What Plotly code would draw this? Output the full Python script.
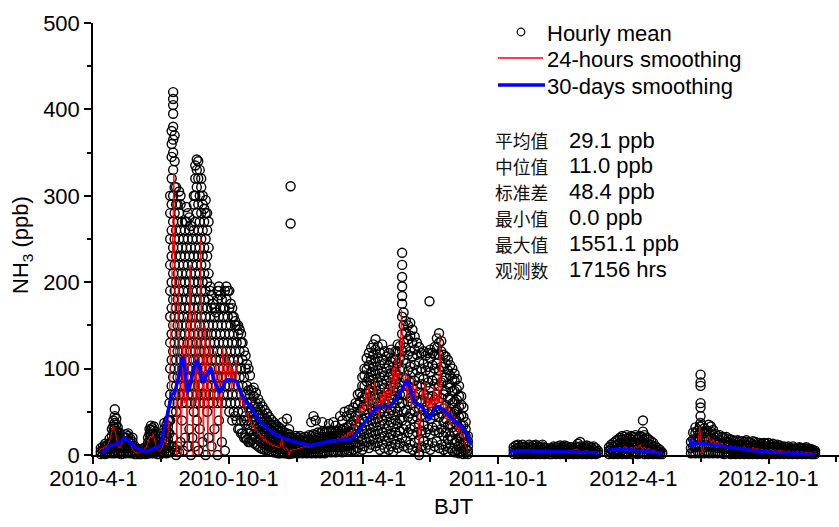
import plotly.graph_objects as go
import pandas as pd

# ---------------- data ----------------
# Hourly mean points: (date, values at that date in ppb)
hourly_2010_spring = [
    ("2010-04-11", [1, 4, 8]), ("2010-04-14", [2, 6, 10]), ("2010-04-17", [1, 5, 9, 13]),
    ("2010-04-20", [2, 7, 12]), ("2010-04-23", [3, 8, 14, 19]), ("2010-04-26", [2, 8, 15, 22, 30]),
    ("2010-04-28", [4, 11, 18, 26, 33, 40]), ("2010-04-30", [2, 9, 16, 24, 31, 37, 45, 53]),
    ("2010-05-02", [5, 12, 20, 28, 35, 42]), ("2010-05-04", [3, 10, 17, 25, 32]),
    ("2010-05-06", [2, 8, 14, 20, 26]), ("2010-05-09", [1, 5, 10, 15]), ("2010-05-12", [3, 9, 15, 20]),
    ("2010-05-15", [2, 8, 14, 20, 24]), ("2010-05-18", [4, 10, 16, 22, 25]), ("2010-05-21", [2, 8, 14, 19]),
    ("2010-05-24", [3, 9, 15, 20]), ("2010-05-27", [1, 5, 10]), ("2010-05-30", [1, 4, 7]),
    ("2010-06-02", [1, 3, 6]), ("2010-06-05", [1, 4, 7]), ("2010-06-08", [2, 5, 8]), ("2010-06-11", [1, 5, 9]),
    ("2010-06-14", [2, 8, 14, 20]), ("2010-06-16", [3, 10, 17, 24, 30]), ("2010-06-18", [2, 9, 16, 23, 29, 34]),
    ("2010-06-20", [4, 11, 18, 25, 31]), ("2010-06-22", [2, 8, 15, 22, 28, 33]), ("2010-06-24", [3, 10, 17, 24]),
    ("2010-06-27", [1, 6, 11, 16]), ("2010-06-30", [1, 4, 8, 12]), ("2010-07-03", [2, 7, 13, 19, 25]),
    ("2010-07-06", [3, 9, 16, 23, 30, 37]), ("2010-07-09", [2, 8, 15, 22, 29, 35]),
    ("2010-07-11", [4, 11, 18, 26, 33, 40]), ("2010-07-13", [3, 12, 25, 40, 60]),
]
hourly_2010_summer = [
    ("2010-07-14", [5, 40, 70, 100, 130, 160, 190, 220, 250, 280, 300]),
    ("2010-07-16", [10, 50, 80, 110, 140, 170, 200, 230, 260, 290, 320, 345, 360, 375]),
    ("2010-07-18", [20, 60, 90, 120, 150, 180, 210, 240, 270, 300, 330, 350, 365, 380, 395, 405, 412, 420]),
    ("2010-07-20", [5, 70, 100, 130, 160, 190, 220, 250, 280, 310, 340, 370]),
    ("2010-07-22", [0, 50, 80, 110, 140, 170, 200, 230, 260, 290, 310]),
    ("2010-07-24", [10, 60, 90, 120, 150, 180, 210, 240, 270, 290]),
    ("2010-07-26", [3, 70, 100, 130, 160, 190, 220, 250, 280, 305]),
    ("2010-07-28", [15, 80, 110, 140, 170, 200, 230, 260, 290, 300]),
    ("2010-07-30", [40, 60, 90, 120, 150, 180, 210, 240, 270]),
    ("2010-08-01", [5, 70, 100, 130, 160, 190, 220, 250]),
    ("2010-08-03", [20, 80, 110, 140, 170, 200, 230, 260, 270]),
    ("2010-08-05", [60, 90, 120, 150, 180, 210, 240, 270, 287]),
    ("2010-08-07", [10, 70, 100, 130, 160, 190, 220, 250, 280]),
    ("2010-08-09", [30, 80, 110, 140, 170, 200, 230, 260, 275]),
    ("2010-08-11", [0, 60, 90, 120, 150, 180, 210, 240, 265]),
    ("2010-08-13", [20, 70, 100, 130, 160, 190, 220, 250]),
    ("2010-08-15", [50, 80, 110, 140, 170, 200, 230, 260, 290, 300]),
    ("2010-08-17", [10, 60, 90, 120, 150, 180, 210, 240, 270, 300, 320, 335]),
    ("2010-08-19", [40, 70, 100, 130, 160, 190, 220, 250, 280, 310, 330, 342]),
    ("2010-08-21", [5, 80, 110, 140, 170, 200, 230, 260, 290, 320, 340]),
    ("2010-08-23", [30, 60, 90, 120, 150, 180, 210, 240, 270, 300, 330]),
    ("2010-08-25", [70, 100, 130, 160, 190, 220, 250, 280, 310, 320]),
    ("2010-08-27", [15, 80, 110, 140, 170, 200, 230, 260, 290, 300]),
    ("2010-08-29", [60, 90, 120, 150, 180, 210, 240, 270, 285]),
    ("2010-08-31", [0, 70, 100, 130, 160, 190, 220, 250, 280, 295]),
    ("2010-09-02", [50, 80, 110, 140, 170, 200, 230, 260, 280]),
    ("2010-09-04", [20, 60, 90, 120, 150, 180, 210, 240, 270]),
    ("2010-09-06", [70, 100, 130, 160, 190, 195]),
    ("2010-09-08", [10, 80, 110, 140, 170, 185]),
    ("2010-09-10", [60, 90, 120, 150, 175]),
    ("2010-09-12", [30, 70, 100, 130, 160, 170]),
    ("2010-09-14", [80, 110, 140, 165]),
    ("2010-09-16", [0, 60, 90, 120, 150, 180, 190]),
    ("2010-09-18", [40, 70, 100, 130, 160, 190, 195]),
    ("2010-09-20", [80, 110, 140, 170, 185]),
    ("2010-09-22", [15, 60, 90, 120, 150, 180]),
    ("2010-09-24", [70, 100, 130, 160, 170]),
    ("2010-09-26", [5, 80, 110, 140, 170, 190]),
    ("2010-09-28", [60, 90, 120, 150, 180, 195]),
    ("2010-09-30", [70, 100, 130, 160, 190]),
    ("2010-10-02", [50, 80, 110, 140, 170, 190]),
    ("2010-10-04", [60, 90, 120, 150, 175]),
    ("2010-10-06", [40, 70, 100, 130, 160, 170]),
    ("2010-10-08", [50, 80, 110, 140, 160]),
    ("2010-10-10", [45, 60, 90, 120, 150, 155]),
    ("2010-10-12", [40, 70, 100, 130, 150]),
    ("2010-10-14", [30, 50, 80, 110, 140, 150]),
    ("2010-10-16", [30, 60, 90, 120, 145]),
    ("2010-10-18", [25, 40, 70, 100, 130, 140]),
    ("2010-10-20", [25, 50, 80, 110, 130]),
    ("2010-10-22", [20, 40, 60, 90, 120]),
    ("2010-10-24", [20, 45, 70, 100, 115]),
    ("2010-10-26", [18, 40, 60, 80, 105]),
    ("2010-10-28", [15, 35, 55, 75, 100]),
    ("2010-10-30", [15, 30, 50, 70, 92]),
]
hourly_2010_winter = [
    ("2010-11-01", [18, 28, 38, 50, 62, 75]), ("2010-11-04", [14, 24, 34, 45, 56, 68, 78]),
    ("2010-11-07", [12, 21, 30, 40, 50, 60, 72]), ("2010-11-10", [10, 18, 27, 36, 46, 56, 65]),
    ("2010-11-13", [8, 16, 24, 33, 42, 52, 60]), ("2010-11-16", [7, 14, 22, 30, 38, 47, 56]),
    ("2010-11-19", [6, 13, 20, 27, 35, 43, 52]), ("2010-11-22", [5, 11, 18, 25, 32, 40, 48]),
    ("2010-11-25", [4, 10, 16, 23, 30, 37, 44]), ("2010-11-28", [4, 9, 15, 21, 28, 35, 41]),
    ("2010-12-01", [3, 8, 14, 20, 26, 32, 38]), ("2010-12-04", [3, 8, 13, 18, 24, 30, 35]),
    ("2010-12-07", [2, 7, 12, 17, 22, 28, 33]), ("2010-12-10", [2, 7, 12, 17, 22, 27, 31]),
    ("2010-12-13", [3, 8, 13, 18, 23, 28, 38]), ("2010-12-16", [2, 6, 11, 16, 21, 26]),
    ("2010-12-19", [2, 6, 11, 16, 21, 25, 42]), ("2010-12-22", [1, 5, 10, 15, 20, 24, 30]),
    ("2010-12-24", [268, 311]), ("2010-12-25", [2, 6, 11, 16, 21]), ("2010-12-28", [2, 6, 10, 15, 20]),
    ("2010-12-31", [3, 7, 12, 17, 22]), ("2011-01-03", [2, 6, 11, 16, 20]), ("2011-01-06", [3, 7, 12, 17, 22]),
    ("2011-01-09", [2, 6, 11, 16, 20]), ("2011-01-12", [3, 7, 12, 17, 21]), ("2011-01-15", [2, 6, 11, 16, 21]),
    ("2011-01-18", [3, 8, 13, 18, 23]), ("2011-01-21", [2, 7, 12, 17, 22, 38]),
    ("2011-01-24", [3, 8, 13, 18, 24, 45]), ("2011-01-27", [2, 7, 12, 17, 23, 40]),
    ("2011-01-30", [3, 8, 14, 20, 26]), ("2011-02-02", [2, 7, 13, 19, 25]),
    ("2011-02-05", [3, 9, 15, 21, 27, 38]), ("2011-02-08", [2, 8, 14, 20, 26]),
    ("2011-02-11", [3, 9, 15, 21, 27]), ("2011-02-14", [4, 10, 16, 22, 28, 36]),
    ("2011-02-17", [3, 9, 15, 21, 27]), ("2011-02-20", [4, 10, 16, 22, 28, 38]),
    ("2011-02-23", [3, 9, 15, 21, 27, 34]), ("2011-02-26", [4, 10, 16, 22, 28]),
    ("2011-03-01", [4, 10, 17, 24, 30, 45]), ("2011-03-04", [3, 9, 16, 23, 29, 40]),
    ("2011-03-07", [5, 11, 18, 25, 31, 50]), ("2011-03-10", [4, 10, 17, 24, 32, 45]),
    ("2011-03-13", [5, 12, 19, 26, 34, 52]), ("2011-03-16", [4, 11, 18, 26, 35, 48]),
    ("2011-03-19", [6, 13, 21, 30, 40, 55]), ("2011-03-22", [5, 14, 24, 34, 45, 60]),
]
hourly_2011_spring = [
    ("2011-03-25", [8, 20, 32, 45, 58, 70]), ("2011-03-28", [12, 25, 38, 50, 62, 72]),
    ("2011-03-31", [6, 18, 30, 42, 55, 68, 80, 90]), ("2011-04-03", [10, 24, 38, 52, 66, 80, 92, 100]),
    ("2011-04-06", [15, 29, 43, 57, 71, 85, 99, 112]), ("2011-04-09", [8, 20, 34, 48, 62, 76, 90, 104, 118]),
    ("2011-04-12", [12, 26, 40, 54, 68, 82, 96, 110, 124]), ("2011-04-15", [18, 32, 46, 60, 74, 88, 102, 116, 128]),
    ("2011-04-18", [10, 24, 38, 52, 66, 80, 94, 108, 122, 134]), ("2011-04-21", [14, 28, 42, 56, 70, 84, 98, 112, 126]),
    ("2011-04-24", [6, 20, 34, 48, 62, 76, 90, 104, 118]), ("2011-04-27", [12, 26, 40, 54, 68, 82, 96, 110, 128]),
    ("2011-04-30", [8, 22, 36, 50, 64, 78, 92, 106, 120]), ("2011-05-03", [16, 30, 44, 58, 72, 86, 100, 114]),
    ("2011-05-06", [6, 20, 34, 48, 62, 76, 90, 104, 118]), ("2011-05-09", [10, 24, 38, 52, 66, 80, 94, 108, 122]),
    ("2011-05-12", [4, 18, 32, 46, 60, 74, 88, 102, 112]), ("2011-05-15", [12, 26, 40, 54, 68, 82, 96, 110, 120]),
    ("2011-05-18", [8, 22, 36, 50, 64, 78, 92, 106, 120, 128]), ("2011-05-21", [14, 28, 42, 56, 70, 84, 98, 112, 126]),
    ("2011-05-24", [20, 40, 60, 80, 100, 120, 140, 160, 175, 184, 195, 206, 220, 234]),
    ("2011-05-26", [10, 30, 50, 70, 90, 110, 130, 150, 165]), ("2011-05-29", [16, 34, 52, 70, 88, 106, 124, 142, 155]),
    ("2011-06-01", [8, 26, 44, 62, 80, 98, 116, 134, 150]), ("2011-06-04", [12, 30, 48, 66, 84, 102, 120, 138, 153]),
    ("2011-06-07", [6, 24, 42, 60, 78, 96, 114, 130, 145]), ("2011-06-10", [14, 32, 50, 68, 86, 104, 122, 137]),
    ("2011-06-13", [8, 26, 44, 62, 80, 98, 116, 130]), ("2011-06-16", [0, 3, 18, 36, 54, 72, 90, 108, 125]),
    ("2011-06-19", [10, 28, 46, 64, 82, 100, 118]), ("2011-06-22", [16, 34, 52, 70, 88, 106, 120]),
    ("2011-06-25", [8, 26, 44, 62, 80, 98, 115]), ("2011-06-28", [12, 30, 48, 66, 84, 102, 118]),
    ("2011-06-30", [178]), ("2011-07-01", [6, 24, 42, 60, 78, 96, 112, 122]),
    ("2011-07-04", [14, 32, 50, 68, 86, 104, 118]), ("2011-07-07", [10, 28, 46, 64, 82, 100, 116, 125]),
    ("2011-07-10", [16, 34, 52, 70, 88, 106, 124, 135]), ("2011-07-13", [8, 26, 44, 62, 80, 98, 116, 130, 141]),
    ("2011-07-16", [12, 30, 48, 66, 84, 102, 120, 132]), ("2011-07-19", [6, 22, 38, 54, 70, 86, 102, 116]),
    ("2011-07-22", [10, 26, 42, 58, 74, 90, 106, 114]), ("2011-07-25", [4, 18, 34, 50, 66, 82, 98, 110]),
    ("2011-07-28", [8, 22, 36, 50, 64, 78, 92, 104]), ("2011-07-31", [5, 18, 32, 46, 60, 74, 88, 100]),
    ("2011-08-03", [3, 14, 26, 38, 50, 62, 74, 86, 94]), ("2011-08-06", [6, 16, 28, 40, 52, 64, 76, 88]),
    ("2011-08-09", [2, 10, 20, 32, 44, 56, 68, 80]), ("2011-08-12", [4, 12, 22, 34, 46, 58, 68]),
    ("2011-08-15", [1, 6, 14, 24, 34, 44, 55]), ("2011-08-18", [2, 7, 14, 22, 30, 38]),
    ("2011-08-21", [1, 5, 10, 16, 22]),
]
hourly_2011_winter = [
    ("2011-10-22", [1, 5, 9]), ("2011-10-25", [2, 7, 11]), ("2011-10-28", [1, 4, 8, 12]), ("2011-10-31", [2, 6, 10]),
    ("2011-11-03", [1, 5, 9, 12]), ("2011-11-06", [2, 6, 10]), ("2011-11-09", [1, 4, 8]), ("2011-11-12", [2, 6, 10, 12]),
    ("2011-11-15", [1, 5, 9]), ("2011-11-18", [2, 7, 11]), ("2011-11-21", [1, 4, 8, 12]), ("2011-11-24", [2, 6, 10]),
    ("2011-11-27", [1, 5, 9]), ("2011-11-30", [2, 6, 10, 12]), ("2011-12-03", [1, 4, 8]), ("2011-12-06", [2, 5, 8]),
    ("2011-12-09", [1, 4, 7]), ("2011-12-12", [1, 4, 8]), ("2011-12-15", [2, 6, 10]), ("2011-12-18", [1, 5, 9]),
    ("2011-12-21", [2, 6, 10]), ("2011-12-24", [1, 4, 8, 11]), ("2011-12-27", [2, 6, 9]), ("2011-12-30", [1, 5, 9, 11]),
    ("2012-01-02", [2, 6, 10]), ("2012-01-05", [1, 4, 8]), ("2012-01-08", [2, 6, 9]), ("2012-01-11", [1, 5, 8]),
    ("2012-01-14", [2, 6, 10]), ("2012-01-17", [1, 5, 9, 13]), ("2012-01-20", [2, 6, 10, 15]), ("2012-01-23", [1, 5, 9]),
    ("2012-01-26", [2, 6, 10]), ("2012-01-29", [1, 4, 8, 11]), ("2012-02-01", [2, 6, 10]), ("2012-02-04", [1, 5, 9]),
    ("2012-02-07", [2, 6, 10]), ("2012-02-10", [1, 4, 8]), ("2012-02-13", [2, 5]),
]
hourly_2012_spring = [
    ("2012-02-28", [1, 5, 9]), ("2012-03-02", [2, 7, 12]), ("2012-03-05", [1, 5, 10, 14]),
    ("2012-03-08", [2, 6, 11, 16]), ("2012-03-11", [1, 6, 12, 18]), ("2012-03-14", [2, 8, 14, 20]),
    ("2012-03-17", [1, 6, 12, 18, 22]), ("2012-03-20", [3, 9, 15, 21]), ("2012-03-23", [1, 7, 13, 19, 23]),
    ("2012-03-26", [2, 8, 14, 20]), ("2012-03-29", [1, 6, 12, 18, 22]), ("2012-04-01", [3, 9, 15, 21]),
    ("2012-04-04", [2, 8, 14, 20, 23]), ("2012-04-07", [1, 7, 13, 19]), ("2012-04-10", [2, 8, 14, 20, 22]),
    ("2012-04-13", [3, 9, 15, 21]), ("2012-04-14", [27, 40]), ("2012-04-16", [1, 7, 13, 19, 23]),
    ("2012-04-19", [2, 8, 14, 20]), ("2012-04-22", [1, 6, 12, 18]), ("2012-04-25", [2, 7, 12, 16]),
    ("2012-04-28", [1, 5, 10, 14]), ("2012-05-01", [2, 6, 10]), ("2012-05-04", [1, 4, 8]),
    ("2012-05-07", [1, 3, 6]), ("2012-05-10", [1, 3]),
]
hourly_2012_summer = [
    ("2012-06-18", [2, 8, 15]), ("2012-06-21", [3, 10, 18, 26]), ("2012-06-24", [2, 9, 17, 25, 32]),
    ("2012-06-27", [4, 12, 20, 28]), ("2012-06-30", [2, 10, 18, 26, 33]), ("2012-07-01", [37, 45, 55, 60, 80, 84, 93]),
    ("2012-07-03", [3, 11, 19, 27, 34]), ("2012-07-06", [2, 9, 17, 25, 31]), ("2012-07-09", [4, 12, 20, 28]),
    ("2012-07-12", [2, 10, 18, 26, 35]), ("2012-07-15", [3, 11, 19, 27, 33]), ("2012-07-18", [2, 9, 16, 23, 29]),
    ("2012-07-21", [3, 10, 17, 24]), ("2012-07-24", [2, 8, 15, 22]), ("2012-07-27", [3, 10, 17, 23]),
    ("2012-07-30", [2, 8, 14, 21]), ("2012-08-02", [1, 7, 13, 20]), ("2012-08-05", [3, 9, 15, 21]),
    ("2012-08-08", [2, 8, 14, 19]), ("2012-08-11", [1, 6, 12, 18]), ("2012-08-14", [2, 8, 13, 17]),
    ("2012-08-17", [1, 6, 11, 16]), ("2012-08-20", [2, 7, 12, 17]), ("2012-08-23", [1, 6, 11, 16]),
    ("2012-08-26", [2, 7, 12, 16]), ("2012-08-29", [1, 5, 10, 15]), ("2012-09-01", [2, 7, 12, 17]),
    ("2012-09-04", [1, 6, 11, 15]), ("2012-09-07", [2, 6, 10, 14]), ("2012-09-10", [1, 5, 10, 16]),
    ("2012-09-13", [2, 6, 11, 15]), ("2012-09-16", [1, 5, 9, 14]), ("2012-09-19", [2, 6, 10, 14]),
    ("2012-09-22", [1, 5, 9, 13]), ("2012-09-25", [2, 6, 10, 14]), ("2012-09-28", [1, 5, 9, 13]),
    ("2012-10-01", [2, 6, 10, 14]), ("2012-10-04", [1, 5, 9, 12]), ("2012-10-07", [2, 6, 10, 13]),
    ("2012-10-10", [1, 4, 8, 11]), ("2012-10-13", [2, 5, 9, 12]), ("2012-10-16", [1, 4, 8, 11]),
    ("2012-10-19", [2, 5, 9]), ("2012-10-22", [1, 4, 8, 10]), ("2012-10-25", [2, 5, 9]),
    ("2012-10-28", [1, 4, 7, 10]), ("2012-10-31", [2, 5, 8]), ("2012-11-03", [1, 4, 7, 10]),
    ("2012-11-06", [2, 5, 8]), ("2012-11-09", [1, 4, 7]), ("2012-11-12", [2, 5, 8, 9]),
    ("2012-11-15", [1, 4, 7]), ("2012-11-18", [2, 5, 8]), ("2012-11-21", [1, 4, 7, 9]),
    ("2012-11-24", [2, 5, 7]), ("2012-11-27", [1, 4, 7]), ("2012-11-30", [1, 3, 6]), ("2012-12-03", [1, 3, 5]),
]

# 24-hours smoothing: start date, spacing in days, values
red_2010_start, red_2010_step = "2010-04-08", 2
red_2010_vals = [
    4, 6, 8, 7, 10, 9, 12, 14, 20, 28, 34, 30,
    18, 12, 8, 10, 14, 18, 22, 20, 16, 18, 12, 6, 4, 3, 3,
    2, 3, 4, 5, 6, 8, 12, 18, 22, 20, 24, 16, 10, 6, 4,
    5, 8, 14, 18, 12, 20, 60, 150, 240, 326, 120, 0, 206, 90, 0, 130,
    60, 160, 0, 140, 220, 90, 0, 170, 60, 150, 0, 252, 120, 0, 150,
    100, 0, 148, 110, 80, 0, 120, 90, 60, 110, 0, 125, 100, 80, 120,
    90, 110, 70, 100, 80, 110, 70, 85, 60, 75, 55, 60, 45, 50, 38, 42,
    32, 36, 28, 30, 24, 26, 20, 22, 16, 20, 14, 16, 12, 14, 10,
    12, 9, 11, 8, 10, 20, 8, 7, 9, 6, 0, 6, 5, 7, 6,
    6, 8, 7, 9, 8, 10, 9, 11, 8, 10, 9, 11, 10, 12, 11, 13,
    12, 14, 12, 15, 13, 16, 14, 17, 15, 18, 14, 16, 20, 18,
    18, 22, 20, 24, 18, 26, 22, 28, 24, 35, 30, 45, 38, 55, 48,
    60, 50, 75, 55, 80, 45, 70, 60, 85, 50, 65, 40, 70, 55, 80,
    60, 75, 50, 90, 65, 100, 70, 120, 80, 95, 90, 168, 110, 75, 95, 60,
    90, 70, 55, 90, 60, 80, 60, 0, 50, 75, 60, 85, 55, 70, 50,
    65, 55, 80, 50, 70, 60, 141, 55, 65, 45, 60, 40, 55, 35, 50,
    40, 45, 30, 40, 25, 35, 20, 25, 12, 8, 5,
]
red_2011w_start, red_2011w_step = "2011-10-20", 4
red_2011w_vals = [3, 4, 5, 4, 3, 5, 4, 6, 4, 3, 5, 4, 3, 2, 4, 3, 5, 4, 3, 5, 4, 6, 7, 4, 3, 5, 4, 3, 4, 3]
red_2012s_start, red_2012s_step = "2012-02-28", 3
red_2012s_vals = [4, 5, 6, 8, 7, 9, 6, 10, 8, 7, 9, 6, 10, 8, 12, 7, 9, 6, 8, 5, 6, 4, 3, 2, 2]
red_2012b_start, red_2012b_step = "2012-06-18", 3
red_2012b_vals = [8, 12, 15, 10, 33, 2, 12, 18, 22, 14, 18, 12, 16, 10, 14, 9, 12, 8, 11, 7, 10, 6, 9, 7, 10,
                  6, 8, 5, 9, 6, 8, 5, 7, 5, 6, 4, 7, 5, 6, 4, 6, 4, 5, 3, 5, 3, 4, 3, 5, 3, 4, 2, 3, 2, 3, 2, 2]

# 30-days smoothing
blue_a_dates = ["2010-04-13", "2010-04-18", "2010-04-23", "2010-04-30", "2010-05-06", "2010-05-13", "2010-05-18",
                "2010-05-22", "2010-05-28", "2010-06-03", "2010-06-09", "2010-06-14", "2010-06-20", "2010-06-25",
                "2010-07-01", "2010-07-05", "2010-07-10", "2010-07-16", "2010-07-20", "2010-07-24", "2010-07-27",
                "2010-07-31", "2010-08-03", "2010-08-06", "2010-08-10", "2010-08-15", "2010-08-19", "2010-08-23",
                "2010-08-26", "2010-08-29", "2010-09-02", "2010-09-07", "2010-09-12", "2010-09-16", "2010-09-19",
                "2010-09-24", "2010-09-28", "2010-10-05", "2010-10-12", "2010-10-18", "2010-10-24", "2010-10-30",
                "2010-11-06", "2010-11-13", "2010-11-21", "2010-12-01", "2010-12-13", "2010-12-26", "2011-01-05",
                "2011-01-19", "2011-02-01", "2011-02-15", "2011-03-01", "2011-03-14", "2011-03-21", "2011-03-27",
                "2011-04-03", "2011-04-10", "2011-04-17", "2011-04-23", "2011-05-01", "2011-05-07", "2011-05-16",
                "2011-05-24", "2011-05-31", "2011-06-05", "2011-06-10", "2011-06-16", "2011-06-21", "2011-06-30",
                "2011-07-09", "2011-07-14", "2011-07-23", "2011-08-05", "2011-08-12", "2011-08-17", "2011-08-22",
                "2011-08-26"]
blue_a_vals = [2.5, 6, 10, 12, 14, 20, 17, 14, 9, 6, 5, 4.5, 7, 9, 10, 25, 45, 70, 72, 85, 95, 114, 100, 72, 82,
               100, 110, 100, 87, 84, 95, 101, 85, 78, 72, 80, 87, 87, 85, 72, 62, 57, 47, 38, 32, 25, 20, 16, 14,
               11, 13, 16, 17, 18, 22, 29, 38, 45, 52, 56, 56, 56, 64, 76, 87, 75, 61, 58, 55, 41, 56, 55, 49, 38,
               33, 29, 20, 12]
blue_b_dates = ["2011-10-17", "2011-10-19", "2011-10-30", "2011-11-15", "2011-12-01", "2011-12-15", "2012-01-01",
                "2012-01-15", "2012-02-01", "2012-02-14"]
blue_b_vals = [6, 4, 5, 4.5, 4, 3.5, 3, 3, 3, 2.5]
blue_c_dates = ["2012-02-27", "2012-03-10", "2012-03-25", "2012-04-10", "2012-04-25", "2012-05-10"]
blue_c_vals = [5.5, 6.5, 6, 5, 3.5, 2]
blue_d_dates = ["2012-06-18 00:00", "2012-06-18 08:00", "2012-06-20", "2012-07-01", "2012-07-15", "2012-07-31",
                "2012-08-15", "2012-09-01", "2012-09-15", "2012-10-01", "2012-10-20", "2012-11-05", "2012-11-20",
                "2012-12-04"]
blue_d_vals = [19, 9, 12, 14, 12, 10, 8, 6, 4.5, 3.5, 3, 2, 1, 0.5]

major_ticks = ["2010-04-01", "2010-10-01", "2011-04-01", "2011-10-01", "2012-04-01", "2012-10-01"]
major_labels = ["2010-4-1", "2010-10-1", "2011-4-1", "2011-10-1", "2012-4-1", "2012-10-1"]
minor_ticks = ["2010-07-01", "2011-01-01", "2011-07-01", "2012-01-01", "2012-07-01", "2013-01-01"]

stat_names = ["平均值", "中位值", "标准差", "最小值", "最大值", "观测数"]
stat_values = ["29.1 ppb", "11.0 ppb", "48.4 ppb", "0.0 ppb", "1551.1 ppb", "17156 hrs"]

legend_names = ["Hourly mean", "24-hours smoothing", "30-days smoothing"]

# ---------------- build ----------------
hx, hy = [], []
for groups in [hourly_2010_spring, hourly_2010_summer, hourly_2010_winter, hourly_2011_spring,
               hourly_2011_winter, hourly_2012_spring, hourly_2012_summer]:
    for d, vals in groups:
        for v in vals:
            hx.append(pd.Timestamp(d))
            hy.append(v)

rx, ry = [], []
for start, step, vals in [(red_2010_start, red_2010_step, red_2010_vals),
                          (red_2011w_start, red_2011w_step, red_2011w_vals),
                          (red_2012s_start, red_2012s_step, red_2012s_vals),
                          (red_2012b_start, red_2012b_step, red_2012b_vals)]:
    dates = pd.date_range(start, periods=len(vals), freq=f"{step}D")
    rx += list(dates) + [None]
    ry += list(vals) + [None]

bx, by = [], []
for dates, vals in [(blue_a_dates, blue_a_vals), (blue_b_dates, blue_b_vals),
                    (blue_c_dates, blue_c_vals), (blue_d_dates, blue_d_vals)]:
    bx += [pd.Timestamp(d) for d in dates] + [None]
    by += list(vals) + [None]

FONT = "Liberation Sans, Arial, sans-serif"
CJK = "Noto Sans CJK SC"
FS = 22

fig = go.Figure()
fig.add_trace(go.Scatter(x=hx, y=hy, mode="markers", name=legend_names[0], showlegend=False, cliponaxis=False,
                         marker=dict(symbol="circle-open", size=9, color="black", line=dict(width=1.4, color="black"))))
fig.add_trace(go.Scatter(x=rx, y=ry, mode="lines", name=legend_names[1], showlegend=False, connectgaps=False,
                         line=dict(color="#ff0000", width=1)))
fig.add_trace(go.Scatter(x=bx, y=by, mode="lines", name=legend_names[2], showlegend=False, connectgaps=False,
                         line=dict(color="#0000ff", width=3.5)))

# plot area geometry (pixels)
L, T, W, H = 93, 23, 746, 432


def px(x):
    return (x - L) / W


def py(y):
    return (T + H - y) / H


annotations = []
shapes = []
# manual legend
shapes.append(dict(type="circle", xref="paper", yref="paper", x0=px(517.2), x1=px(524.8), y0=py(35.8), y1=py(28.2),
                   line=dict(color="black", width=1.2)))
shapes.append(dict(type="line", xref="paper", yref="paper", x0=px(498), x1=px(543), y0=py(58), y1=py(58),
                   line=dict(color="#ff0000", width=1.5)))
shapes.append(dict(type="line", xref="paper", yref="paper", x0=px(498), x1=px(545), y0=py(85), y1=py(85),
                   line=dict(color="#0000ff", width=3.5)))
for i, name in enumerate(legend_names):
    annotations.append(dict(x=px(545), y=py(33 + i * 26.5), xref="paper", yref="paper", text=name,
                            showarrow=False, xanchor="left", yanchor="middle",
                            font=dict(family=FONT, size=FS, color="black")))
# statistics block
row0, row_gap = 140, 25.9
for i, (nm, val) in enumerate(zip(stat_names, stat_values)):
    yy = row0 + i * row_gap
    annotations.append(dict(x=px(494), y=py(yy), xref="paper", yref="paper", text=nm, showarrow=False,
                            xanchor="left", yanchor="middle", borderpad=0,
                            font=dict(family=CJK, size=17.8, color="#111111")))
    annotations.append(dict(x=px(568), y=py(yy), xref="paper", yref="paper", text=val, showarrow=False,
                            xanchor="left", yanchor="middle", borderpad=0,
                            font=dict(family=FONT, size=FS, color="black")))
# axis titles
annotations.append(dict(x=px(22), y=py(245), xref="paper", yref="paper", text="NH<sub>3</sub> (ppb)",
                        textangle=-90, showarrow=False, xanchor="center", yanchor="middle",
                        font=dict(family=FONT, size=FS, color="black")))
annotations.append(dict(x=px(453), y=py(506), xref="paper", yref="paper", text="BJT", showarrow=False,
                        xanchor="center", yanchor="middle", font=dict(family=FONT, size=FS, color="black")))

fig.update_layout(
    width=839, height=527,
    margin=dict(l=L, r=0, t=T, b=527 - T - H),
    paper_bgcolor="white", plot_bgcolor="white",
    showlegend=False,
    font=dict(family=FONT, size=FS, color="black"),
    annotations=annotations, shapes=shapes,
    xaxis=dict(type="date", range=["2010-03-31 12:00", "2013-01-04 10:00"],
               showline=True, linecolor="black", linewidth=1.5, mirror=False,
               showgrid=False, zeroline=False,
               ticks="outside", ticklen=7, tickwidth=1.5, tickcolor="black",
               tickmode="array", tickvals=major_ticks, ticktext=major_labels,
               ticklabelstandoff=-4,
               tickfont=dict(family=FONT, size=FS, color="black"),
               minor=dict(tickmode="array", tickvals=minor_ticks, ticks="outside", ticklen=5,
                          tickwidth=1.5, tickcolor="black", showgrid=False)),
    yaxis=dict(range=[0, 500], showline=True, linecolor="black", linewidth=1.5,
               showgrid=False, zeroline=False,
               ticks="outside", ticklen=7, tickwidth=1.5, tickcolor="black",
               tickmode="array", tickvals=[0, 100, 200, 300, 400, 500],
               tickfont=dict(family=FONT, size=FS, color="black"),
               minor=dict(tickmode="array", tickvals=[50, 150, 250, 350, 450], ticks="outside", ticklen=4,
                          tickwidth=1.5, tickcolor="black", showgrid=False)),
)

fig.write_html("out.html")
